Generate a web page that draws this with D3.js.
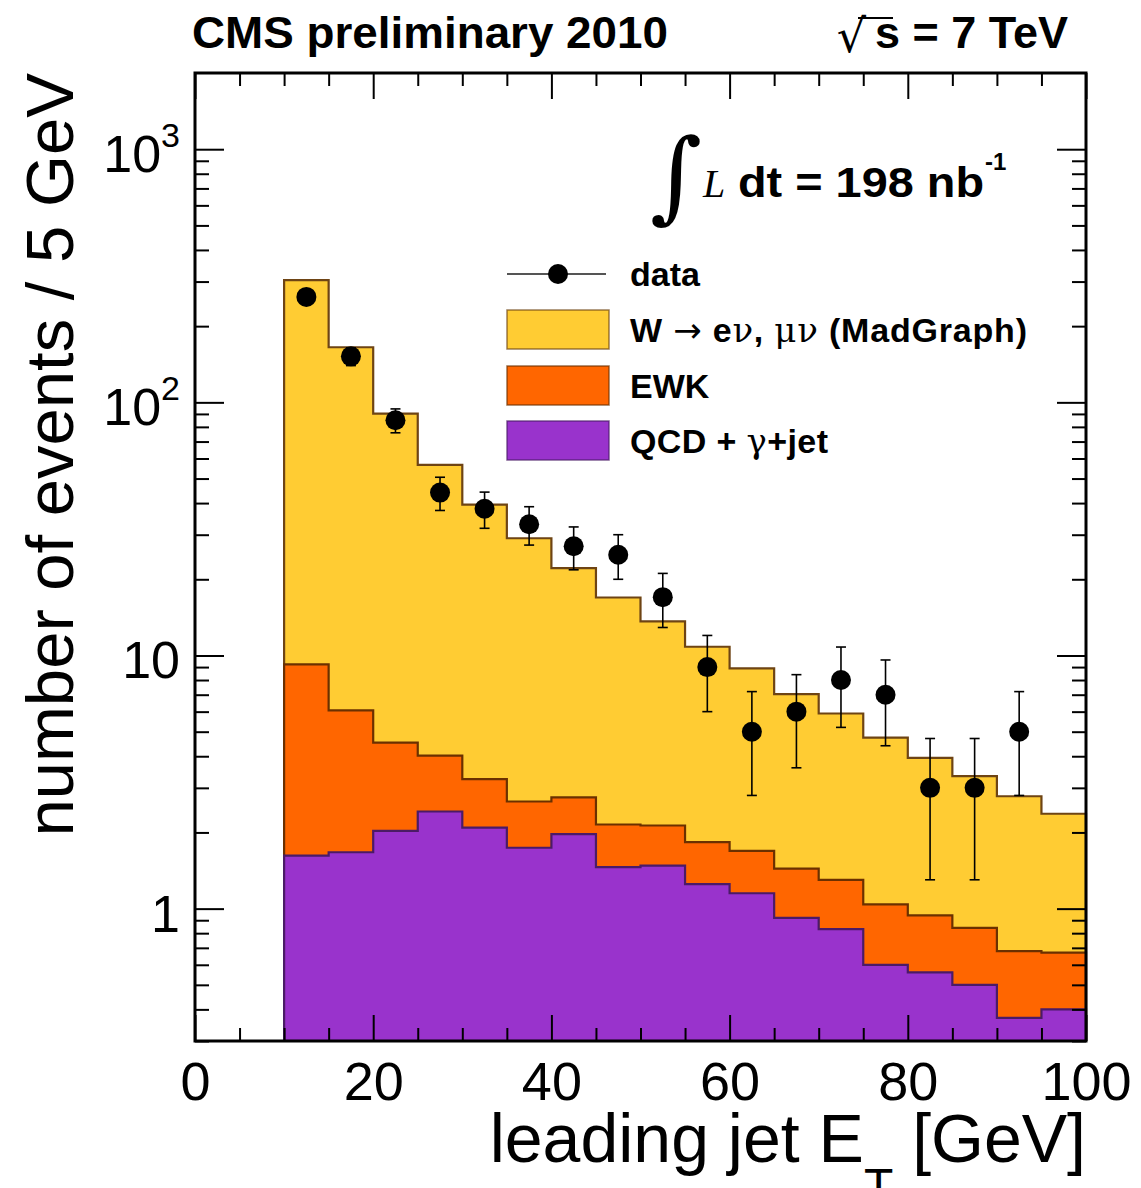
<!DOCTYPE html>
<html>
<head>
<meta charset="utf-8">
<script src="https://cdn.jsdelivr.net/npm/d3@7"></script>
<style>
  body { margin: 0; background: #fff; }
  svg { display: block; font-family: "Liberation Sans", Arial, Helvetica, sans-serif; }
</style>
</head>
<body>
<script>
// bins: lower edges of the 5 GeV bins that are filled
const binLo = [10, 15, 20, 25, 30, 35, 40, 45, 50, 55, 60, 65, 70, 75, 80, 85, 90, 95];
const binWidth = 5;

// stacked MC components (events / 5 GeV)
const wJets = [295, 159, 85.8, 52.6, 36.2, 26.4, 19.4, 14.8, 11.5, 9.0, 7.2, 5.6, 4.6, 3.7, 3.0, 2.5, 2.1, 1.7];
const ewk   = [7.6, 4.4, 2.5, 1.6, 1.16, 0.91, 0.78, 0.69, 0.65, 0.58, 0.54, 0.52, 0.47, 0.44, 0.38, 0.34, 0.31, 0.27];
const qcd   = [1.62, 1.67, 2.03, 2.42, 2.09, 1.74, 1.97, 1.46, 1.48, 1.25, 1.15, 0.92, 0.83, 0.60, 0.56, 0.50, 0.37, 0.40];

// data counts and their errors (0 = empty bin)
const dataCounts = [261, 152, 85, 44, 38, 33, 27, 25, 17, 9, 5, 6, 8, 7, 3, 3, 5, 0];
const dataErr    = [16.2, 12.3, 9.2, 6.6, 6.2, 5.7, 5.2, 5.0, 4.1, 3.0, 2.2, 2.4, 2.8, 2.6, 1.7, 1.7, 2.2, 0];

const xMajor = [0, 20, 40, 60, 80, 100];
const yMajor = [1, 10, 100, 1000];
const yLabels = [["1", ""], ["10", ""], ["10", "2"], ["10", "3"]];

const width = 1141;
const height = 1188;

const svg = d3.select("body")
    .append("svg")
    .attr("width", width)
    .attr("height", height);

svg.append("rect").attr("width", width).attr("height", height).attr("fill", "white");

const frameL = 195, frameR = 1086, frameT = 73, frameB = 1041;
const yMin = 0.3, yMax = 2000;

const x = d3.scaleLinear().domain([0, 100]).range([frameL, frameR]);
const y = d3.scaleLog().domain([yMin, yMax]).range([frameB, frameT]);

// stack the three MC samples: qcd at the bottom, then ewk, then W
const rows = binLo.map((lo, i) => ({ lo, qcd: qcd[i], ewk: ewk[i], w: wJets[i] }));
const stacked = d3.stack().keys(["qcd", "ewk", "w"])(rows);

const fills = { w: "#ffcc33", ewk: "#ff6600", qcd: "#9933cc" };
const lines = { w: "#6e4414", ewk: "#6b3000", qcd: "#4b1b66" };

const step = d3.line()
    .x(d => x(d[0]))
    .y(d => y(d[1]))
    .curve(d3.curveStepAfter);

function histPoints(layer) {
    const pts = [[binLo[0], yMin]];
    layer.forEach((d, i) => pts.push([binLo[i], d[1]]));
    const last = layer[layer.length - 1][1];
    pts.push([binLo[binLo.length - 1] + binWidth, last]);
    pts.push([binLo[binLo.length - 1] + binWidth, yMin]);
    return pts;
}

const hists = svg.append("g").attr("id", "hists");
// draw total first, smaller stacks on top
["w", "ewk", "qcd"].forEach(key => {
    const layer = stacked.find(s => s.key === key);
    hists.append("path")
        .attr("d", step(histPoints(layer)))
        .attr("fill", fills[key])
        .attr("stroke", lines[key])
        .attr("stroke-width", 2.2)
        .attr("stroke-linejoin", "miter");
});

// axes (ticks inward on all four sides)
function styleAxis(g) {
    g.select(".domain").remove();
    g.selectAll(".tick line").attr("stroke", "#000").attr("stroke-width", 2);
    g.selectAll(".tick text")
        .attr("fill", "#000")
        .style("font-size", "54px")
        .style("font-family", "'Liberation Sans', Arial, sans-serif");
}

const xMinor = d3.range(5, 100, 5).filter(v => v % 20 !== 0);
const yMinor = [];
[0.1, 1, 10, 100, 1000].forEach(p => {
    for (let k = 2; k <= 9; k++) {
        const v = k * p;
        if (v >= yMin && v < yMax) yMinor.push(v);
    }
});

svg.append("g")
    .attr("transform", `translate(0,${frameB})`)
    .call(d3.axisBottom(x).tickValues(xMajor).tickSizeInner(-26).tickSizeOuter(0).tickPadding(21))
    .call(styleAxis);
svg.append("g")
    .attr("transform", `translate(0,${frameB})`)
    .call(d3.axisBottom(x).tickValues(xMinor).tickSizeInner(-13).tickSizeOuter(0).tickFormat(""))
    .call(styleAxis);
svg.append("g")
    .attr("transform", `translate(0,${frameT})`)
    .call(d3.axisTop(x).tickValues(xMajor).tickSizeInner(-26).tickSizeOuter(0).tickFormat(""))
    .call(styleAxis);
svg.append("g")
    .attr("transform", `translate(0,${frameT})`)
    .call(d3.axisTop(x).tickValues(xMinor).tickSizeInner(-13).tickSizeOuter(0).tickFormat(""))
    .call(styleAxis);

svg.append("g")
    .attr("transform", `translate(${frameL},0)`)
    .call(d3.axisLeft(y).tickValues(yMajor).tickSizeInner(-29).tickSizeOuter(0).tickFormat(""))
    .call(styleAxis);
svg.append("g")
    .attr("transform", `translate(${frameL},0)`)
    .call(d3.axisLeft(y).tickValues(yMinor).tickSizeInner(-14).tickSizeOuter(0).tickFormat(""))
    .call(styleAxis);
svg.append("g")
    .attr("transform", `translate(${frameR},0)`)
    .call(d3.axisRight(y).tickValues(yMajor).tickSizeInner(-29).tickSizeOuter(0).tickFormat(""))
    .call(styleAxis);
svg.append("g")
    .attr("transform", `translate(${frameR},0)`)
    .call(d3.axisRight(y).tickValues(yMinor).tickSizeInner(-14).tickSizeOuter(0).tickFormat(""))
    .call(styleAxis);

// y tick labels with superscript exponents
const yLab = svg.append("g").attr("id", "ylabels");
yMajor.forEach((v, i) => {
    const t = yLab.append("text")
        .attr("x", 180)
        .attr("y", y(v) + 23)
        .attr("text-anchor", "end")
        .style("font-size", "52px");
    t.append("tspan").text(yLabels[i][0]);
    if (yLabels[i][1]) {
        t.append("tspan")
            .attr("dy", -25)
            .style("font-size", "34px")
            .text(yLabels[i][1]);
    }
});

// frame
svg.append("rect")
    .attr("x", frameL)
    .attr("y", frameT)
    .attr("width", frameR - frameL)
    .attr("height", frameB - frameT)
    .attr("fill", "none")
    .attr("stroke", "#000")
    .attr("stroke-width", 3);

// data points with error bars
const pts = binLo.map((lo, i) => ({ xc: lo + binWidth / 2, n: dataCounts[i], e: dataErr[i] }))
    .filter(d => d.n > 0);

const dataG = svg.append("g").attr("id", "data");
dataG.selectAll("line.bar")
    .data(pts)
    .join("line")
    .attr("class", "bar")
    .attr("x1", d => x(d.xc))
    .attr("x2", d => x(d.xc))
    .attr("y1", d => y(d.n + d.e))
    .attr("y2", d => y(Math.max(d.n - d.e, yMin)))
    .attr("stroke", "#000")
    .attr("stroke-width", 1.6);
["up", "down"].forEach(side => {
    dataG.selectAll(`line.cap-${side}`)
        .data(pts)
        .join("line")
        .attr("class", `cap-${side}`)
        .attr("x1", d => x(d.xc) - 5)
        .attr("x2", d => x(d.xc) + 5)
        .attr("y1", d => y(side === "up" ? d.n + d.e : Math.max(d.n - d.e, yMin)))
        .attr("y2", d => y(side === "up" ? d.n + d.e : Math.max(d.n - d.e, yMin)))
        .attr("stroke", "#000")
        .attr("stroke-width", 1.6);
});
dataG.selectAll("circle")
    .data(pts)
    .join("circle")
    .attr("cx", d => x(d.xc))
    .attr("cy", d => y(d.n))
    .attr("r", 10)
    .attr("fill", "#000");

// legend
const legend = svg.append("g").attr("id", "legend");
legend.append("line")
    .attr("x1", 507).attr("x2", 606).attr("y1", 274).attr("y2", 274)
    .attr("stroke", "#555").attr("stroke-width", 2);
legend.append("circle").attr("cx", 558).attr("cy", 274).attr("r", 10).attr("fill", "#000");
legend.append("text").attr("x", 630).attr("y", 286)
    .style("font-size", "34px").style("font-weight", "bold").text("data");

const legendRows = [
    { key: "w", y: 310 },
    { key: "ewk", y: 366 },
    { key: "qcd", y: 421 }
];
legendRows.forEach(r => {
    legend.append("rect")
        .attr("x", 507).attr("y", r.y)
        .attr("width", 102).attr("height", 39)
        .attr("fill", fills[r.key])
        .attr("stroke", lines[r.key])
        .attr("stroke-opacity", 0.7)
        .attr("stroke-width", 1.5);
});

const greek = "'DejaVu Serif', 'Liberation Serif', serif";
const tW = legend.append("text").attr("x", 630).attr("y", 342)
    .attr("textLength", 397)
    .style("font-size", "34px").style("font-weight", "bold");
tW.append("tspan").text("W ");
tW.append("tspan").style("font-weight", "normal").style("font-family", "'DejaVu Sans', sans-serif").text("\u2192");
tW.append("tspan").text(" e");
tW.append("tspan").style("font-weight", "normal").style("font-family", greek).text("\u03bd");
tW.append("tspan").text(", ");
tW.append("tspan").style("font-weight", "normal").style("font-family", greek).text("\u03bc\u03bd");
tW.append("tspan").text(" (MadGraph)");

legend.append("text").attr("x", 630).attr("y", 398)
    .style("font-size", "34px").style("font-weight", "bold").text("EWK");

const tQ = legend.append("text").attr("x", 630).attr("y", 453)
    .attr("textLength", 198)
    .style("font-size", "34px").style("font-weight", "bold");
tQ.append("tspan").text("QCD + ");
tQ.append("tspan").style("font-weight", "normal").style("font-family", greek).text("\u03b3");
tQ.append("tspan").text("+jet");

// luminosity label
svg.append("text")
    .attr("x", 650).attr("y", 210)
    .style("font-family", "'DejaVu Serif', serif")
    .style("font-size", "100px")
    .text("\u222b");
svg.append("text")
    .attr("x", 703).attr("y", 197)
    .style("font-family", "'Liberation Serif', serif")
    .style("font-style", "italic")
    .style("font-size", "40px")
    .text("L");
svg.append("text")
    .attr("x", 738).attr("y", 197)
    .attr("textLength", 246)
    .attr("lengthAdjust", "spacingAndGlyphs")
    .style("font-size", "42px").style("font-weight", "bold")
    .text("dt = 198 nb");
svg.append("text")
    .attr("x", 985).attr("y", 170)
    .style("font-size", "24px").style("font-weight", "bold")
    .text("-1");

// header
svg.append("text")
    .attr("x", 192).attr("y", 48)
    .attr("textLength", 476)
    .attr("lengthAdjust", "spacingAndGlyphs")
    .style("font-size", "45px").style("font-weight", "bold")
    .text("CMS preliminary 2010");
svg.append("text")
    .attr("x", 866).attr("y", 52)
    .attr("text-anchor", "end")
    .style("font-family", "'DejaVu Sans', sans-serif")
    .style("font-size", "46px")
    .text("\u221a");
svg.append("line")
    .attr("x1", 858).attr("x2", 893).attr("y1", 18).attr("y2", 18)
    .attr("stroke", "#000").attr("stroke-width", 2);
svg.append("text")
    .attr("x", 1068).attr("y", 48)
    .attr("text-anchor", "end")
    .style("font-size", "45px").style("font-weight", "bold")
    .text("s = 7 TeV");

// axis titles
svg.append("text")
    .attr("transform", "translate(73,73) rotate(-90)")
    .attr("text-anchor", "end")
    .style("font-size", "67px")
    .text("number of events / 5 GeV");

const xt = svg.append("text")
    .attr("x", frameR).attr("y", 1162)
    .attr("text-anchor", "end")
    .style("font-size", "68px");
xt.append("tspan").text("leading jet E");
xt.append("tspan").attr("dy", 40).style("font-size", "48px").text("T");
xt.append("tspan").attr("dy", -40).text(" [GeV]");
</script>
</body>
</html>
